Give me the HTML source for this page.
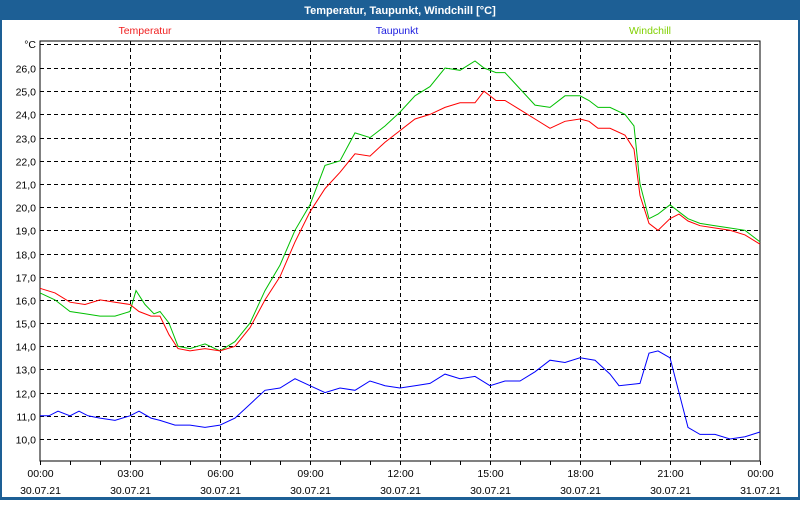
<!DOCTYPE html>
<html><head><meta charset="utf-8"><style>
body{margin:0;width:800px;height:500px;overflow:hidden;background:#fff;font-family:"Liberation Sans","DejaVu Sans",sans-serif}
</style></head><body>
<svg id="s" width="800" height="500" xmlns="http://www.w3.org/2000/svg" font-family="Liberation Sans, DejaVu Sans, sans-serif" font-size="10.5">
<rect x="0" y="0" width="800" height="500" fill="#1d5f95"/>
<rect x="2" y="20" width="796" height="477" fill="#fff"/>
<text x="400" y="14" fill="#fff" font-weight="bold" text-anchor="middle" font-size="11">Temperatur, Taupunkt, Windchill [°C]</text>
<text x="145" y="34" fill="#f02020" text-anchor="middle">Temperatur</text>
<text x="397" y="34" fill="#2020e0" text-anchor="middle">Taupunkt</text>
<text x="650" y="34" fill="#80d000" text-anchor="middle">Windchill</text>
<g id="grid"></g>
<rect x="40" y="41" width="720" height="420" fill="none" stroke="#000" stroke-width="1"/>
<g id="lines" fill="none" stroke-width="1"></g>
</svg>
<script>
const NS="http://www.w3.org/2000/svg";
const X=h=>40+h*30, Y=v=>439-(v-10)*23.1875;
const g=document.getElementById('grid');
function el(t,a,p,txt){const e=document.createElementNS(NS,t);for(const k in a)e.setAttribute(k,a[k]);if(txt!=null)e.textContent=txt;p.appendChild(e);return e;}
for(let v=10;v<=26;v++){const y=Math.round(Y(v))+0.5;el('line',{x1:40,x2:760,y1:y,y2:y,stroke:'#000','stroke-dasharray':'4,3'},g);
el('text',{x:36,y:y+4,'text-anchor':'end'},g,v+',0');}
el('line',{x1:40,x2:760,y1:44.5,y2:44.5,stroke:'#000','stroke-dasharray':'4,3'},g);
el('text',{x:36,y:48,'text-anchor':'end'},g,'°C');
for(let h=0;h<=24;h++){const x=X(h)+0.5;
 if(h%3==0&&h>0&&h<24)el('line',{x1:x,x2:x,y1:41,y2:461,stroke:'#000','stroke-dasharray':'4,3'},g);
 el('line',{x1:x,x2:x,y1:461,y2:465,stroke:'#000'},g);
 if(h%3==0){const hh=(h%24).toString().padStart(2,'0')+':00';
  el('text',{x:x,y:477,'text-anchor':'middle'},g,hh);
  el('text',{x:x,y:494,'text-anchor':'middle'},g,h==24?'31.07.21':'30.07.21');}}
const T=[[0,16.5],[0.5,16.3],[1,15.9],[1.5,15.8],[2,16.0],[2.5,15.9],[3,15.8],[3.3,15.5],[3.7,15.3],[4,15.3],[4.3,14.5],[4.6,13.9],[5,13.8],[5.5,13.9],[6,13.8],[6.5,14.0],[7,14.8],[7.5,16.0],[8,17.0],[8.5,18.5],[9,19.8],[9.5,20.8],[10,21.5],[10.5,22.3],[11,22.2],[11.5,22.8],[12,23.3],[12.5,23.8],[13,24.0],[13.5,24.3],[14,24.5],[14.5,24.5],[14.8,25.0],[15.2,24.6],[15.5,24.6],[16,24.2],[16.5,23.8],[17,23.4],[17.5,23.7],[18,23.8],[18.3,23.7],[18.6,23.4],[19,23.4],[19.5,23.1],[19.8,22.5],[20,20.5],[20.3,19.3],[20.6,19.0],[21,19.5],[21.3,19.7],[21.6,19.4],[22,19.2],[22.5,19.1],[23,19.0],[23.5,18.8],[24,18.4]];
const W=[[0,16.3],[0.5,16.0],[1,15.5],[1.5,15.4],[2,15.3],[2.5,15.3],[3,15.5],[3.2,16.4],[3.5,15.8],[3.8,15.4],[4,15.5],[4.3,15.0],[4.6,14.0],[5,13.9],[5.5,14.1],[6,13.8],[6.5,14.2],[7,15.0],[7.5,16.4],[8,17.5],[8.5,19.0],[9,20.1],[9.5,21.8],[10,22.0],[10.5,23.2],[11,23.0],[11.5,23.5],[12,24.1],[12.5,24.8],[13,25.2],[13.5,26.0],[14,25.9],[14.5,26.3],[14.8,26.0],[15.2,25.8],[15.5,25.8],[16,25.1],[16.5,24.4],[17,24.3],[17.5,24.8],[18,24.8],[18.3,24.6],[18.6,24.3],[19,24.3],[19.5,24.0],[19.8,23.5],[20,21.0],[20.3,19.5],[20.6,19.7],[21,20.1],[21.3,19.8],[21.6,19.5],[22,19.3],[22.5,19.2],[23,19.1],[23.5,19.0],[24,18.5]];
const D=[[0,11.0],[0.3,11.0],[0.6,11.2],[1,11.0],[1.3,11.2],[1.6,11.0],[2,10.9],[2.5,10.8],[3,11.0],[3.3,11.2],[3.7,10.9],[4,10.8],[4.5,10.6],[5,10.6],[5.5,10.5],[6,10.6],[6.5,10.9],[7,11.5],[7.5,12.1],[8,12.2],[8.5,12.6],[9,12.3],[9.5,12.0],[10,12.2],[10.5,12.1],[11,12.5],[11.5,12.3],[12,12.2],[12.5,12.3],[13,12.4],[13.5,12.8],[14,12.6],[14.5,12.7],[15,12.3],[15.5,12.5],[16,12.5],[16.5,12.9],[17,13.4],[17.5,13.3],[18,13.5],[18.5,13.4],[19,12.8],[19.3,12.3],[20,12.4],[20.3,13.7],[20.6,13.8],[21,13.5],[21.3,12.0],[21.6,10.5],[22,10.2],[22.5,10.2],[23,10.0],[23.5,10.1],[24,10.3]];
const L=document.getElementById('lines');
[[D,'#0000ff'],[W,'#00c000'],[T,'#ff0000']].forEach(([d,c])=>el('polyline',{points:d.map(p=>X(p[0]).toFixed(1)+','+Y(p[1]).toFixed(1)).join(' '),stroke:c},L));
</script>
</body></html>
